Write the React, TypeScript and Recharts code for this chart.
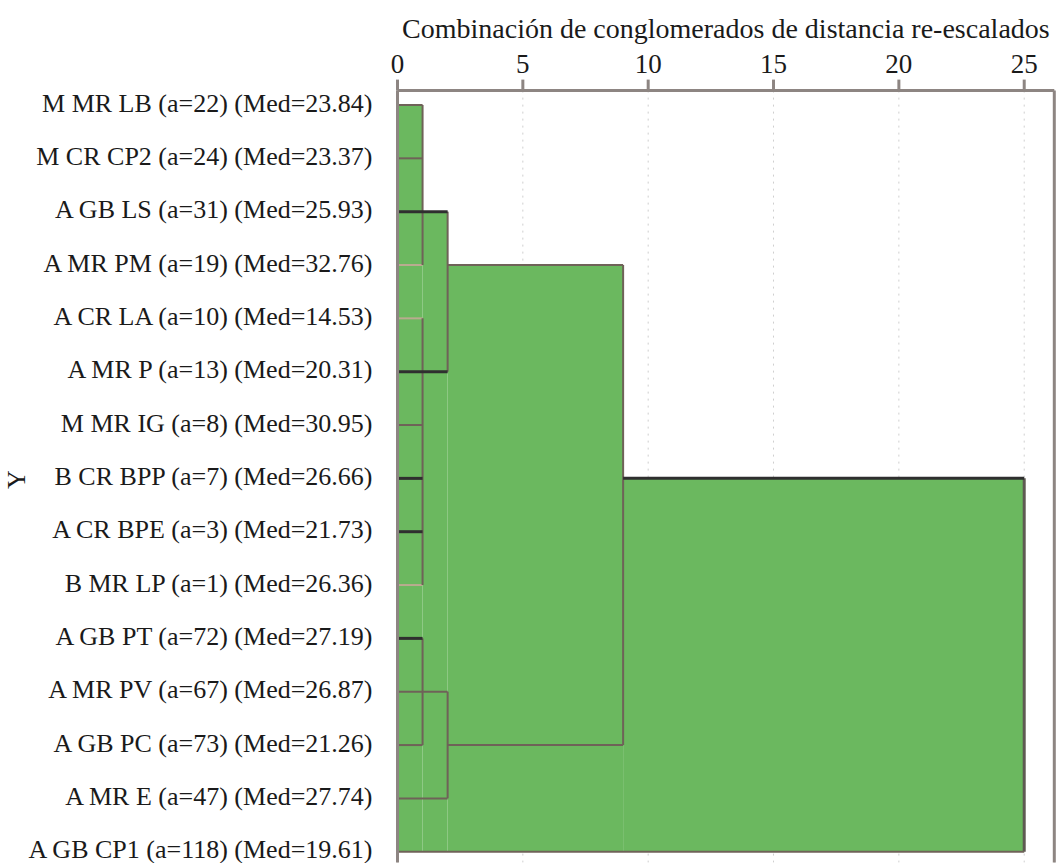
import React from 'react';
import {
  ComposedChart,
  XAxis,
  YAxis,
  CartesianGrid,
  ReferenceArea,
  ReferenceLine,
  Scatter,
} from 'recharts';

// Leaf labels (top to bottom)
const categories = [
  'M MR LB (a=22) (Med=23.84)',
  'M CR CP2 (a=24) (Med=23.37)',
  'A GB LS (a=31) (Med=25.93)',
  'A MR PM (a=19) (Med=32.76)',
  'A CR LA (a=10) (Med=14.53)',
  'A MR P (a=13) (Med=20.31)',
  'M MR IG (a=8) (Med=30.95)',
  'B CR BPP (a=7) (Med=26.66)',
  'A CR BPE (a=3) (Med=21.73)',
  'B MR LP (a=1) (Med=26.36)',
  'A GB PT (a=72) (Med=27.19)',
  'A MR PV (a=67) (Med=26.87)',
  'A GB PC (a=73) (Med=21.26)',
  'A MR E (a=47) (Med=27.74)',
  'A GB CP1 (a=118) (Med=19.61)',
];

const xTicks = [0, 5, 10, 15, 20, 25];
const rowIdx = categories.map((_, i) => i);
const lastRow = categories.length - 1;

// Green envelope: distance range and first row it covers (down to the last row)
const fillDistFrom = [0, 1, 2, 9];
const fillDistTo = [1, 2, 9, 25];
const fillFirstRow = [0, 2, 3, 7];

// Horizontal links: [row, distance from, distance to]
const hLinks = [
  [0, 0, 1], [1, 0, 1], [3, 2, 9], [6, 0, 1], [11, 0, 2],
  [12, 0, 1], [12, 2, 9], [13, 0, 2], [14, 0, 25],
];
const hLinksDark = [
  [2, 0, 2], [5, 0, 2], [7, 0, 1], [7, 9, 25], [8, 0, 1], [10, 0, 1],
];
const hLinksLight = [[3, 0, 1], [4, 0, 1], [9, 0, 1]];

// Vertical links: [distance, row from, row to]
const vLinks = [
  [1, 0, 2], [1, 2, 3], [2, 2, 5], [1, 4, 9], [9, 3, 12],
  [25, 7, 14], [1, 10, 12], [2, 11, 13],
];

const leafPoints = rowIdx.map((r) => ({ d: 0, row: r }));

const FONT = '"Liberation Serif", "Times New Roman", serif';
const AXIS_GRAY = '#8d8582';
const LINK = '#6f6258';
const LINK_DARK = '#2f2f2f';
const LINK_LIGHT = '#b9ab8f';
const GREEN = '#6bb85f';

const xMax = 26.2;

const YTitle = (props: any) => {
  const vb = props.viewBox || { x: 0, y: 0, width: 0, height: 0 };
  const cx = vb.x + 16;
  const cy = vb.y + vb.height / 2 + 3;
  return (
    <text
      x={cx}
      y={cy}
      transform={`rotate(-90 ${cx} ${cy})`}
      textAnchor="middle"
      dominantBaseline="central"
      fontFamily={FONT}
      fontSize={26}
      fill="#1a1a1a"
    >
      Y
    </text>
  );
};

const YTick = (props: any) => {
  const { x, y, payload } = props;
  return (
    <text
      x={x}
      y={y - 2}
      textAnchor="end"
      dominantBaseline="central"
      fontFamily={FONT}
      fontSize={26}
      fill="#1a1a1a"
    >
      {categories[payload.value] ?? ''}
    </text>
  );
};

export default function App() {
  return (
    <div style={{ position: 'absolute', left: 0, top: 0, width: 1059, height: 863, overflow: 'hidden', background: '#fff' }}>
      <ComposedChart
        width={1059}
        height={863}
        margin={{ top: 0, right: 4.7, bottom: 0.6, left: 0 }}
      >
        <CartesianGrid
          horizontal={false}
          stroke="#cfcfcf"
          strokeDasharray="2 5"
        />
        <XAxis
          type="number"
          dataKey="d"
          orientation="top"
          domain={[0, xMax]}
          ticks={xTicks}
          allowDataOverflow
          height={90.6}
          tickSize={11}
          tickMargin={6.6}
          axisLine={{ stroke: AXIS_GRAY, strokeWidth: 3 }}
          tickLine={{ stroke: AXIS_GRAY, strokeWidth: 3 }}
          tick={{ fill: '#1a1a1a', fontSize: 27, fontFamily: FONT }}
          label={{
            value: 'Combinación de conglomerados de distancia re-escalados',
            position: 'insideTop',
            offset: 18,
            fill: '#1a1a1a',
            fontSize: 28,
            fontFamily: FONT,
          }}
        />
        <YAxis
          type="number"
          dataKey="row"
          domain={[-0.27, 14.2]}
          reversed
          allowDataOverflow
          ticks={rowIdx}
          interval={0}
          width={397.5}
          tickSize={0}
          tickMargin={25}
          tickLine={false}
          axisLine={{ stroke: AXIS_GRAY, strokeWidth: 3 }}
          tick={<YTick />}
          label={<YTitle />}
        />
        {fillDistFrom.map((d, i) => (
          <ReferenceArea
            key={`f${i}`}
            x1={d}
            x2={fillDistTo[i]}
            y1={fillFirstRow[i]}
            y2={lastRow}
            fill={GREEN}
            fillOpacity={1}
            stroke="none"
            ifOverflow="visible"
          />
        ))}
        {hLinksLight.map(([r, a, b], i) => (
          <ReferenceLine
            key={`hl${i}`}
            segment={[{ x: a, y: r }, { x: b, y: r }]}
            stroke={LINK_LIGHT}
            strokeWidth={2}
            ifOverflow="visible"
          />
        ))}
        {vLinks.map(([d, r1, r2], i) => (
          <ReferenceLine
            key={`v${i}`}
            segment={[{ x: d, y: r1 }, { x: d, y: r2 }]}
            stroke={d === 25 ? '#5e5a52' : LINK}
            strokeWidth={d === 25 ? 3 : 2}
            ifOverflow="visible"
          />
        ))}
        {hLinks.map(([r, a, b], i) => (
          <ReferenceLine
            key={`h${i}`}
            segment={[{ x: a, y: r }, { x: b, y: r }]}
            stroke={LINK}
            strokeWidth={2}
            ifOverflow="visible"
          />
        ))}
        {hLinksDark.map(([r, a, b], i) => (
          <ReferenceLine
            key={`hd${i}`}
            segment={[{ x: a, y: r }, { x: b, y: r }]}
            stroke={LINK_DARK}
            strokeWidth={3}
            ifOverflow="visible"
          />
        ))}
        <ReferenceLine
          x={xMax}
          stroke={AXIS_GRAY}
          strokeWidth={3}
          ifOverflow="visible"
        />
        <Scatter
          data={leafPoints}
          isAnimationActive={false}
          shape={() => <g />}
        />
      </ComposedChart>
    </div>
  );
}
